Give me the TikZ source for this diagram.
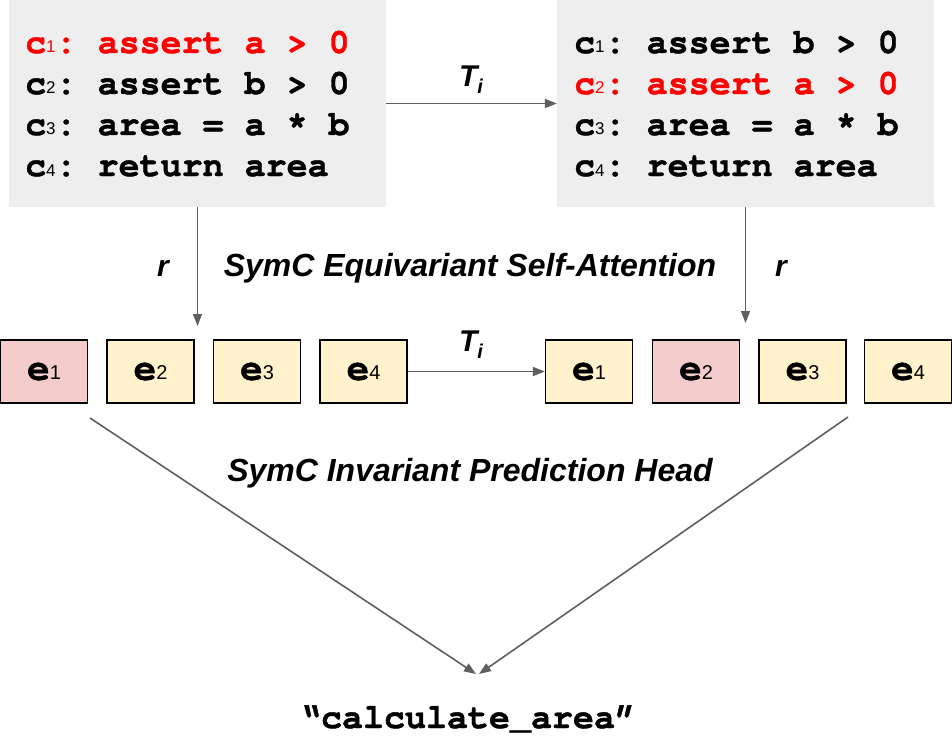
\documentclass[tikz,border=0pt]{standalone}
\usepackage{fontspec}
\usetikzlibrary{arrows.meta}
\newfontfamily\codefont{texgyrecursor}[Extension=.otf,UprightFont=*-regular,BoldFont=*-bold,BoldFeatures={FakeBold=1.2}]
\newfontfamily\labfont{Liberation Sans}
\definecolor{boxgray}{HTML}{EEEEEE}
\definecolor{pinkfill}{HTML}{F4CCCC}
\definecolor{yellowfill}{HTML}{FFF2CC}
\definecolor{arrowgray}{HTML}{5F5F5F}
\definecolor{codered}{HTML}{FF0000}
% code line: c_k: text
\newcommand{\cl}[2]{c{\labfont\mdseries\fontsize{17}{17}\selectfont #1}:\ #2}
\newcommand{\ek}[1]{e{\labfont\mdseries\fontsize{20}{20}\selectfont #1}}
\begin{document}
\begin{tikzpicture}[x=1pt,y=-1pt,
  codebox/.style={fill=boxgray,draw=none,minimum width=377pt,minimum height=207pt,inner sep=0pt},
  codeline/.style={anchor=base west,inner sep=0pt,font=\codefont\bfseries\fontsize{35}{35}\selectfont},
  ebox/.style={draw=black,line width=1.3pt,minimum width=87pt,minimum height=63pt,inner sep=0pt,
    font=\codefont\bfseries\fontsize{38}{38}\selectfont},
  pinkbox/.style={ebox,fill=pinkfill},
  yelbox/.style={ebox,fill=yellowfill},
  arr/.style={draw=arrowgray,line width=1.6pt,-{Triangle[length=12pt,width=9pt]}},
  lab/.style={font=\labfont\bfseries\itshape\fontsize{32}{32}\selectfont,inner sep=0pt},
  tlab/.style={font=\labfont\bfseries\itshape\fontsize{30}{30}\selectfont,inner sep=0pt}
]
\useasboundingbox (0,0) rectangle (952,741);

% code boxes
\node[codebox] (L) at (197.5,103.5) {};
\node[codebox] (R) at (745.5,103.5) {};

\node[codeline,text=codered] (l1) at (25,53) {\cl{1}{assert a > 0}};
\node[codeline] (l2) at (25,94) {\cl{2}{assert b > 0}};
\node[codeline] (l3) at (25,135) {\cl{3}{area = a * b}};
\node[codeline] (l4) at (25,176) {\cl{4}{return area}};

\node[codeline] (r1) at (574,53) {\cl{1}{assert b > 0}};
\node[codeline,text=codered] (r2) at (574,94) {\cl{2}{assert a > 0}};
\node[codeline] (r3) at (574,135) {\cl{3}{area = a * b}};
\node[codeline] (r4) at (574,176) {\cl{4}{return area}};

% transformation between the two programs
\draw[arr] (L.east) -- (R.west);
\node[tlab] (t1) at (471,80) {T\raisebox{-7pt}{\fontsize{20}{20}\selectfont i}};

% embeddings
\node[pinkbox] (a1) at (44,371.5) {\ek{1}};
\node[yelbox] (a2) at (150.5,371.5) {\ek{2}};
\node[yelbox] (a3) at (257,371.5) {\ek{3}};
\node[yelbox] (a4) at (363.5,371.5) {\ek{4}};

\node[yelbox] (b1) at (589,371.5) {\ek{1}};
\node[pinkbox] (b2) at (696,371.5) {\ek{2}};
\node[yelbox] (b3) at (802.5,371.5) {\ek{3}};
\node[yelbox] (b4) at (908,371.5) {\ek{4}};

\draw[arr] (a4.east) -- (b1.west);
\node[tlab] (t2) at (471,345) {T\raisebox{-7pt}{\fontsize{20}{20}\selectfont i}};

% representation arrows
\coordinate (ld) at (197.5,326);
\coordinate (rd) at (745.5,323);
\draw[arr] (L.south) -- (ld);
\draw[arr] (R.south) -- (rd);
\node[tlab] (r1lab) at (163,268) {r};
\node[tlab] (r2lab) at (781,268) {r};
\node[lab] (eqsa) at (470,268) {SymC Equivariant Self-Attention};

% prediction head
\coordinate (ls) at (90,418);
\coordinate (rs) at (848,417);
\coordinate (tipl) at (476,674);
\coordinate (tipr) at (479,674);
\draw[arr] (ls) -- (tipl);
\draw[arr] (rs) -- (tipr);
\node[lab] (inv) at (470,473) {SymC Invariant Prediction Head};

\node[codeline,anchor=base] (out) at (468,728) {“calculate\_area”};
\end{tikzpicture}
\end{document}
